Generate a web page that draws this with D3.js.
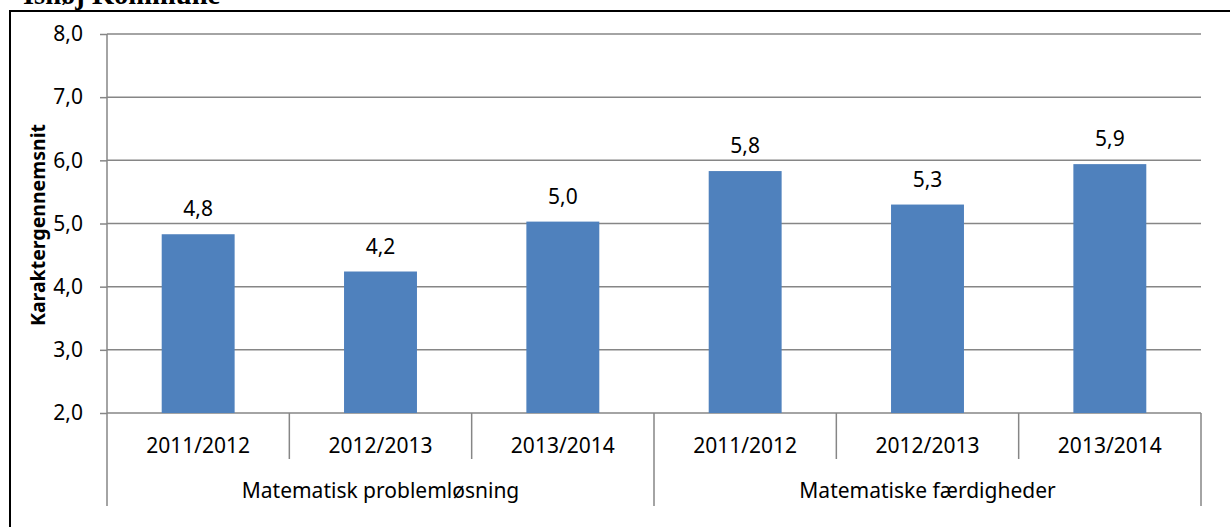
<!DOCTYPE html>
<html><head><meta charset="utf-8">
<script src="https://cdn.jsdelivr.net/npm/d3@7"></script>
<style>body{margin:0;background:#fff}svg{display:block}</style>
</head><body>
<svg id="c" width="1230" height="527"></svg>
<script>
const title = "Ishøj Kommune";
const yAxisTitle = "Karaktergennemsnit";
const groups = ["Matematisk problemløsning", "Matematiske færdigheder"];
const years = ["2011/2012", "2012/2013", "2013/2014"];
const values = [4.83, 4.24, 5.03, 5.83, 5.30, 5.94];
const yTicks = [2, 3, 4, 5, 6, 7, 8];

const svg = d3.select("#c");
const font = "'Noto Sans', 'Open Sans', sans-serif";
const fs = 21;
const L = 107, R = 1201, T = 34, B = 413;

// title (cut at top) and frame
svg.append("text").attr("x", 23).attr("y", 4).attr("font-family", "'Liberation Serif', serif")
  .attr("font-weight", "bold").attr("font-size", 28.5).attr("fill", "#000").text(title);
svg.append("path").attr("d", `M10,1000 L10,11 L1240,11`).attr("fill", "none")
  .attr("stroke", "#000").attr("stroke-width", 2);

const cats = [];
groups.forEach((g, gi) => years.forEach((yr, yi) => cats.push({g, gi, yr, i: gi * years.length + yi})));

const y = d3.scaleLinear().domain([2, 8]).range([B, T]);
const slot = d3.scaleBand().domain(cats.map(d => d.i)).range([L, R]).padding(0);
const xb = d3.scaleBand().domain(cats.map(d => d.i)).range([L, R]).paddingInner(0.6).paddingOuter(0.3);

const grid = "#868686";
// gridlines and y ticks
const yAxis = d3.axisLeft(y).tickValues(yTicks).tickSize(7).tickPadding(17)
  .tickFormat(d => d3.format(".1f")(d).replace(".", ","));
const gy = svg.append("g").attr("transform", `translate(${L},0)`).call(yAxis);
gy.select(".domain").remove();
gy.selectAll(".tick line").attr("stroke", grid).attr("stroke-width", 1.5);
gy.selectAll(".tick text").attr("font-family", font).attr("font-size", fs).attr("fill", "#000");
svg.append("g").selectAll("line").data(yTicks).join("line")
  .attr("x1", L).attr("x2", R).attr("y1", d => y(d)).attr("y2", d => y(d))
  .attr("stroke", grid).attr("stroke-width", 1.5);

// bars
svg.append("g").selectAll("rect").data(cats).join("rect")
  .attr("x", d => xb(d.i)).attr("width", xb.bandwidth())
  .attr("y", d => y(values[d.i])).attr("height", d => y(2) - y(values[d.i]))
  .attr("fill", "#4F81BD");

// value labels
svg.append("g").selectAll("text").data(cats).join("text")
  .attr("x", d => xb(d.i) + xb.bandwidth() / 2).attr("y", d => y(values[d.i]) - 18)
  .attr("text-anchor", "middle").attr("font-family", font).attr("font-size", fs).attr("fill", "#000")
  .text(d => d3.format(".1f")(values[d.i]).replace(".", ","));

// x axis lines
svg.append("line").attr("x1", L).attr("x2", L).attr("y1", T).attr("y2", 506)
  .attr("stroke", grid).attr("stroke-width", 1.5);
const seps = cats.map(d => ({x: slot(d.i) + slot.bandwidth(), big: (d.i + 1) % years.length === 0}));
svg.append("g").selectAll("line").data(seps).join("line")
  .attr("x1", d => d.x).attr("x2", d => d.x).attr("y1", B).attr("y2", d => d.big ? 506 : 459)
  .attr("stroke", grid).attr("stroke-width", 1.5);

// category labels
svg.append("g").selectAll("text").data(cats).join("text")
  .attr("x", d => slot(d.i) + slot.bandwidth() / 2).attr("y", 453)
  .attr("text-anchor", "middle").attr("font-family", font).attr("font-size", fs).attr("fill", "#000")
  .text(d => d.yr);
svg.append("g").selectAll("text").data(groups).join("text")
  .attr("x", (d, gi) => (slot(gi * years.length) + slot(gi * years.length + years.length - 1) + slot.bandwidth()) / 2)
  .attr("y", 498).attr("text-anchor", "middle").attr("font-family", font).attr("font-size", fs).attr("fill", "#000")
  .text(d => d);

// y axis title
svg.append("text").attr("transform", `translate(45,225) rotate(-90)`)
  .attr("text-anchor", "middle").attr("font-family", font).attr("font-weight", "bold")
  .attr("font-size", 19.5).attr("fill", "#000").text(yAxisTitle);
</script>
</body></html>
